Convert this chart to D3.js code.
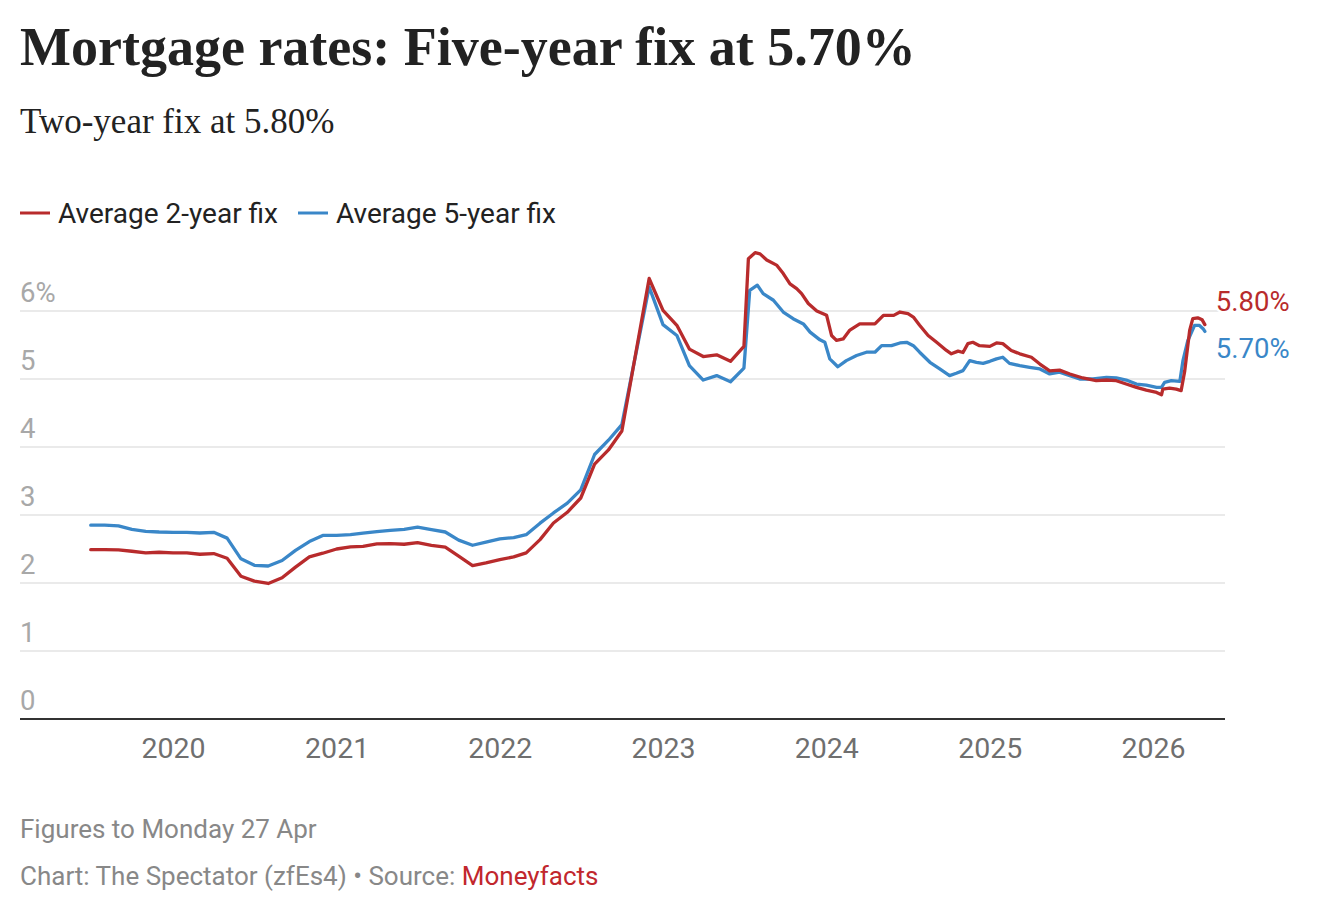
<!DOCTYPE html>
<html>
<head>
<meta charset="utf-8">
<script src="https://cdn.jsdelivr.net/npm/d3@7"></script>
<style>
  html, body { margin: 0; padding: 0; background: #fff; }
  svg { display: block; }
  text { font-family: Roboto, "Noto Sans", sans-serif; }
</style>
</head>
<body>
<svg id="chart" width="1320" height="914"></svg>
<script>
// ---------- DATA ----------
const titleText = "Mortgage rates: Five-year fix at 5.70%";
const subtitleText = "Two-year fix at 5.80%";
const seriesNames = ["Average 2-year fix", "Average 5-year fix"];
const yTicks = [0, 1, 2, 3, 4, 5, 6];
const xTickYears = [2020, 2021, 2022, 2023, 2024, 2025, 2026];
const noteText = "Figures to Monday 27 Apr";
const creditText = "Chart: The Spectator (zfEs4) \u2022 Source: ";
const sourceText = "Moneyfacts";
const endLabels = ["5.80%", "5.70%"];

// Monthly section (start-of-month figures), shared dates
const monthlyDates = [
  "2019-07-01","2019-08-01","2019-09-01","2019-10-01","2019-11-01","2019-12-01",
  "2020-01-01","2020-02-01","2020-03-01","2020-04-01","2020-05-01","2020-06-01",
  "2020-07-01","2020-08-01","2020-09-01","2020-10-01","2020-11-01","2020-12-01",
  "2021-01-01","2021-02-01","2021-03-01","2021-04-01","2021-05-01","2021-06-01",
  "2021-07-01","2021-08-01","2021-09-01","2021-10-01","2021-11-01","2021-12-01",
  "2022-01-01","2022-02-01","2022-03-01","2022-04-01","2022-05-01","2022-06-01",
  "2022-07-01","2022-08-01","2022-09-01","2022-10-01","2022-12-01",
  "2023-01-01","2023-02-01","2023-03-01","2023-04-01","2023-05-01","2023-06-01","2023-07-01"
];
const twoYearMonthly = [
  2.49, 2.49, 2.487, 2.467, 2.443, 2.452,
  2.443, 2.443, 2.423, 2.433, 2.364, 2.10, 2.027, 1.993, 2.076, 2.233, 2.384, 2.438,
  2.50, 2.53, 2.54, 2.574, 2.579, 2.57, 2.594, 2.555, 2.526, 2.394, 2.257, 2.296,
  2.345, 2.384, 2.443, 2.638, 2.882, 3.04, 3.25, 3.747, 3.957, 4.235, 6.478,
  6.01, 5.79, 5.44, 5.33, 5.355, 5.26, 5.48
];
const fiveYearMonthly = [
  2.85, 2.85, 2.84, 2.79, 2.76, 2.75,
  2.745, 2.745, 2.735, 2.745, 2.66, 2.355, 2.26, 2.25, 2.33, 2.48, 2.61, 2.70,
  2.70, 2.71, 2.735, 2.755, 2.775, 2.79, 2.82, 2.785, 2.75, 2.63, 2.555, 2.60,
  2.65, 2.667, 2.71, 2.88, 3.03, 3.175, 3.37, 3.89, 4.10, 4.33, 6.355,
  5.80, 5.64, 5.197, 4.985, 5.05, 4.96, 5.16
];

// Daily section (sampled), July 2023 onwards
const twoYearDailyDates = [
  "2023-07-11","2023-07-26","2023-08-06","2023-08-21","2023-09-12","2023-09-27",
  "2023-10-12","2023-10-27","2023-11-07","2023-11-22","2023-12-11",
  "2024-01-02","2024-01-13","2024-01-24","2024-02-08","2024-02-23","2024-03-16",
  "2024-04-19","2024-05-08","2024-05-31","2024-06-14","2024-07-02","2024-07-14",
  "2024-07-28","2024-08-16","2024-09-04","2024-09-26","2024-10-07","2024-10-22",
  "2024-11-02","2024-11-13","2024-11-24","2024-12-09",
  "2025-01-01","2025-01-16","2025-01-30","2025-02-18","2025-03-09","2025-04-04",
  "2025-04-23","2025-05-15","2025-06-06","2025-06-29","2025-07-28","2025-08-27",
  "2025-09-19","2025-10-11","2025-11-02","2025-11-25","2025-12-17",
  "2026-01-09","2026-01-20","2026-01-23","2026-02-07","2026-02-22","2026-03-05",
  "2026-03-13","2026-03-24","2026-03-31","2026-04-11","2026-04-21","2026-04-27"
];
const twoYearDaily = [
  6.77, 6.857, 6.84, 6.75, 6.675, 6.55,
  6.40, 6.33, 6.256, 6.11, 6.0,
  5.936, 5.64, 5.567, 5.59, 5.72, 5.81,
  5.81, 5.936, 5.936, 5.985, 5.96, 5.91,
  5.79, 5.64, 5.54, 5.42, 5.37, 5.41,
  5.39, 5.52, 5.54, 5.49,
  5.48, 5.53, 5.52, 5.42, 5.37, 5.32,
  5.22, 5.12, 5.13, 5.074, 5.015, 4.975,
  4.985, 4.975, 4.926, 4.877, 4.837,
  4.803, 4.768, 4.852, 4.867, 4.852, 4.83,
  5.12, 5.714, 5.887, 5.90, 5.87, 5.80
];
const fiveYearDailyDates = [
  "2023-07-14","2023-07-31","2023-08-13","2023-09-05","2023-09-27","2023-10-19",
  "2023-11-11","2023-11-26","2023-12-18","2023-12-29",
  "2024-01-09","2024-01-27","2024-02-15","2024-03-09","2024-03-31","2024-04-19",
  "2024-05-04","2024-05-26","2024-06-14","2024-06-29","2024-07-14","2024-07-28",
  "2024-08-20","2024-09-11","2024-10-03","2024-10-18","2024-11-02","2024-11-17",
  "2024-12-02","2024-12-17",
  "2025-01-01","2025-01-16","2025-01-30","2025-02-14","2025-03-09","2025-03-31",
  "2025-04-23","2025-05-15","2025-06-06","2025-06-29","2025-07-21","2025-08-20",
  "2025-09-19","2025-10-11","2025-11-02","2025-11-25","2025-12-17",
  "2026-01-09","2026-01-20","2026-01-27","2026-02-11","2026-03-02","2026-03-09",
  "2026-03-20","2026-04-04","2026-04-15","2026-04-23","2026-04-27"
];
const fiveYearDaily = [
  6.305, 6.38, 6.256, 6.158, 5.985, 5.887,
  5.81, 5.69, 5.576, 5.54,
  5.296, 5.18, 5.27, 5.345, 5.394, 5.394,
  5.49, 5.49, 5.53, 5.54, 5.49, 5.394,
  5.246, 5.148, 5.05, 5.084, 5.123, 5.27,
  5.246, 5.23,
  5.26, 5.296, 5.32, 5.23, 5.197, 5.172,
  5.148, 5.074, 5.10, 5.05, 5.0, 5.0,
  5.025, 5.015, 4.985, 4.926, 4.911,
  4.877, 4.877, 4.95, 4.975, 4.965, 5.27,
  5.566, 5.788, 5.788, 5.74, 5.70
];

// ---------- STYLE ----------
const RED = "#b82b2c";
const BLUE = "#3a87c8";

// ---------- BUILD ----------
const parse = d3.timeParse("%Y-%m-%d");
function build(dates, vals) { return dates.map((d, i) => ({ date: parse(d), value: vals[i] })); }
const twoYear = build(monthlyDates.concat(twoYearDailyDates), twoYearMonthly.concat(twoYearDaily));
const fiveYear = build(monthlyDates.concat(fiveYearDailyDates), fiveYearMonthly.concat(fiveYearDaily));

const svg = d3.select("#chart");
const plotLeft = 20, plotRight = 1225;

const x = d3.scaleTime()
  .domain([new Date(2020, 0, 1), new Date(2026, 0, 1)])
  .range([173, 1153]);
const y = d3.scaleLinear().domain([0, 6]).range([719, 311]);

// Title & subtitle
svg.append("text").attr("x", 20).attr("y", 65)
  .style("font-family", "'Liberation Serif', 'DejaVu Serif', serif")
  .style("font-weight", "bold").style("font-size", "54px").style("fill", "#222")
  .text(titleText);
svg.append("text").attr("x", 20).attr("y", 133)
  .style("font-family", "'Liberation Serif', 'DejaVu Serif', serif")
  .style("font-size", "35px").style("fill", "#222")
  .text(subtitleText);

// Legend
const legend = svg.append("g");
const legItems = [{ name: seriesNames[0], color: RED, x: 20 }, { name: seriesNames[1], color: BLUE, x: 298 }];
legItems.forEach(it => {
  legend.append("line").attr("x1", it.x).attr("x2", it.x + 30).attr("y1", 213).attr("y2", 213)
    .attr("stroke", it.color).attr("stroke-width", 3);
  legend.append("text").attr("x", it.x + 38).attr("y", 223)
    .style("font-size", "28px").style("fill", "#222").text(it.name);
});

// Gridlines + y labels
const grid = svg.append("g");
yTicks.filter(t => t > 0).forEach(t => {
  grid.append("line").attr("x1", plotLeft).attr("x2", plotRight)
    .attr("y1", y(t)).attr("y2", y(t)).attr("stroke", "#e3e3e3").attr("stroke-width", 1.5);
});
yTicks.forEach(t => {
  grid.append("text").attr("x", plotLeft).attr("y", y(t) - 9)
    .style("font-size", "27.5px").style("fill", "#a8a8a8")
    .text(t === 6 ? t + "%" : t);
});

// x axis
svg.append("line").attr("x1", plotLeft).attr("x2", plotRight).attr("y1", 719).attr("y2", 719)
  .attr("stroke", "#333").attr("stroke-width", 2);
const xAxis = d3.axisBottom(x)
  .tickValues(xTickYears.map(yy => new Date(yy, 0, 1)))
  .tickFormat(d3.timeFormat("%Y")).tickSize(0).tickPadding(0);
const xg = svg.append("g").attr("transform", "translate(0,719)").call(xAxis);
xg.select(".domain").remove();
xg.selectAll("text").attr("dy", null).attr("y", 39)
  .style("font-family", "Roboto, sans-serif").style("font-size", "28.5px").style("fill", "#6f6f6f");

// Lines
const line = d3.line().x(d => x(d.date)).y(d => y(d.value)).curve(d3.curveLinear);
svg.append("path").datum(fiveYear).attr("d", line).attr("fill", "none")
  .attr("stroke", BLUE).attr("stroke-width", 3.3).attr("stroke-linejoin", "round").attr("stroke-linecap", "round");
svg.append("path").datum(twoYear).attr("d", line).attr("fill", "none")
  .attr("stroke", RED).attr("stroke-width", 3.3).attr("stroke-linejoin", "round").attr("stroke-linecap", "round");

// End labels
const lastTwo = twoYear[twoYear.length - 1], lastFive = fiveYear[fiveYear.length - 1];
svg.append("text").attr("x", x(lastTwo.date) + 11).attr("y", 311)
  .style("font-size", "27.5px").style("fill", RED)
  .attr("stroke", "#fff").attr("stroke-width", 5).attr("paint-order", "stroke")
  .text(endLabels[0]);
svg.append("text").attr("x", x(lastFive.date) + 11).attr("y", 358)
  .style("font-size", "27.5px").style("fill", BLUE)
  .attr("stroke", "#fff").attr("stroke-width", 5).attr("paint-order", "stroke")
  .text(endLabels[1]);

// Footer
svg.append("text").attr("x", 20).attr("y", 838)
  .style("font-size", "26px").style("fill", "#888").text(noteText);
const credit = svg.append("text").attr("x", 20).attr("y", 885).style("font-size", "26px").style("fill", "#888");
credit.append("tspan").text(creditText);
credit.append("tspan").style("fill", "#c1272d").text(sourceText);
</script>
</body>
</html>
